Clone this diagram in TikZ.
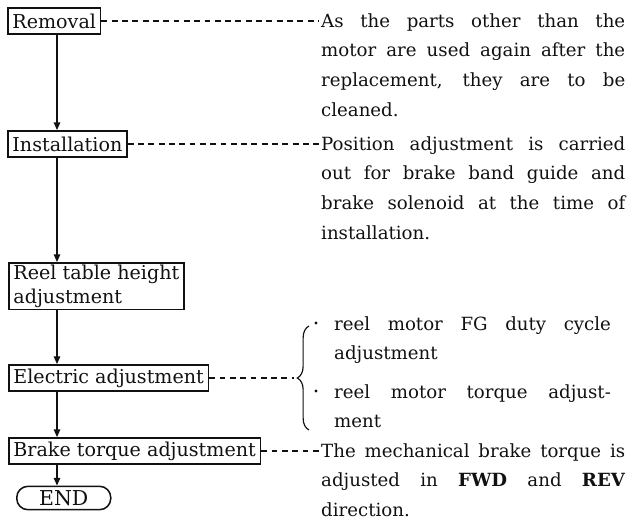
\documentclass[tikz,border=0pt]{standalone}
\usepackage{fontspec}
\setmainfont{DejaVu Serif}
\usetikzlibrary{arrows.meta, positioning, calc, decorations.pathreplacing}

\begin{document}
\begin{tikzpicture}[
    x=0.03cm, y=-0.03cm,
    every node/.style={font=\fontsize{15.5}{25.6}\selectfont},
]

% ---------------------------------------------------------------- colours
\definecolor{ink}{HTML}{111111}   % boxes, arrows, text

% ---------------------------------------------------------------- styles
\tikzset{
    stage/.style={
        rectangle, draw=ink, line width=1.3pt, text=ink,
        font=\fontsize{16.3}{20}\selectfont,
        minimum height=0.79cm, inner xsep=4pt, inner ysep=2pt,
    },
    note/.style={
        text width=9.12cm, align=justify, inner sep=0pt, text=ink,
    },
    item/.style={
        text width=8.3cm, align=justify, inner sep=0pt, text=ink,
    },
    dot/.style={circle, fill=ink, inner sep=0pt, minimum size=2.6pt},
    flow/.style={-{Triangle[length=6.5pt, width=5.5pt]}, line width=1.1pt, ink},
    leader/.style={dash pattern=on 5pt off 3.8pt, line width=0.9pt, ink,
        shorten >=1.5pt},
}

% ================================================================
% GEOMETRY (x, y in pixels of the page, y downward)
%   stages     x in [7, 258], spine x = 57
%   notes      x in [321, 625]
%   brace      x in [296, 309]
% ================================================================

\useasboundingbox (0,0) rectangle (639,529);
\coordinate (spine) at (57, 0);

% ---------------------------------------------------------------- stages
\node[stage, anchor=west] (removal) at (7, 21) {Removal};
\node[stage, anchor=west] (install) at (7, 144) {Installation};
\node[stage, anchor=north west, align=left] (reel) at (8, 262)
    {Reel table height\\adjustment};
\node[stage, anchor=west] (elec) at (8, 378) {Electric adjustment};
\node[stage, anchor=west] (brake) at (8, 451) {Brake torque adjustment};
\node[stage, anchor=west, rounded corners=9.5pt, minimum width=2.82cm,
      minimum height=0.7cm, font=\fontsize{17.5}{20}\selectfont]
    (finish) at (16, 498) {END};

\foreach \a/\b in {removal/install, install/reel, reel/elec,
                   elec/brake, brake/finish} {
    \draw[flow] (\a.south -| spine) -- (\b.north -| spine);
}

% ---------------------------------------------------------------- notes
\node[note, anchor=base west] (noteA) at (321, 27)
    {As the parts other than the\linebreak
     motor are used again after the\linebreak
     replacement, they are to be\linebreak
     cleaned.};
\node[note, anchor=base west] (noteB) at (321, 150)
    {Position adjustment is carried\linebreak
     out for brake band guide and\linebreak
     brake solenoid at the time of\linebreak
     installation.};
\node[note, anchor=base west] (noteC) at (321, 457)
    {The mechanical brake torque is\linebreak
     adjusted in \textbf{FWD} and \textbf{REV}\linebreak
     direction.};

\draw[leader] (removal.east) -- (removal.east -| noteA.west);
\draw[leader] (install.east) -- (install.east -| noteB.west);
\draw[leader] (brake.east) -- (brake.east -| noteC.west);

% ---------------------------------------------------------------- electric items
\node[dot] (dotA) at (316, 323) {};
\node[item, anchor=base west] (itemA) at (334, 330)
    {reel motor FG duty cycle\linebreak adjustment};
\node[dot] (dotB) at (316, 391) {};
\node[item, anchor=base west] (itemB) at (334, 398)
    {reel motor torque adjust-\linebreak ment};

\coordinate (bracetip) at (296, 378);
\draw[decorate, decoration={brace, amplitude=10pt}, line width=1pt, ink]
    (309, 430) -- (309, 326);
\draw[leader] (elec.east) -- (elec.east -| bracetip);

\end{tikzpicture}
\end{document}
